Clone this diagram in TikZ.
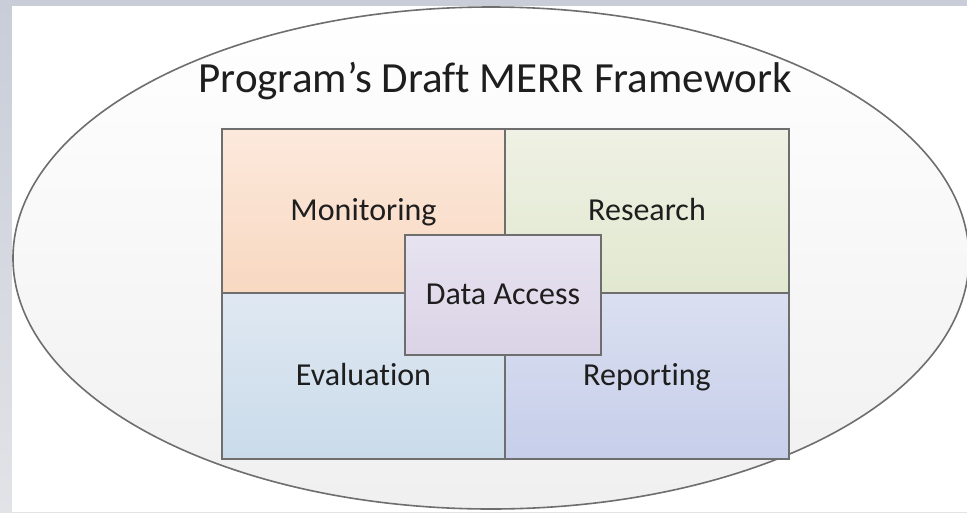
\documentclass[tikz,border=0pt]{standalone}
\usepackage{fontspec}
\setmainfont{Carlito}[Ligatures=NoCommon]
\usetikzlibrary{shapes.geometric}
\definecolor{edgegray}{HTML}{6E6E6E}
\definecolor{textgray}{HTML}{1E1E1E}
\definecolor{bgtop}{RGB}{200,205,216}
\definecolor{bgbot}{RGB}{226,227,231}
\definecolor{montop}{HTML}{FCE9DC}
\definecolor{monbot}{HTML}{F8D8C1}
\definecolor{restop}{HTML}{EFF1E4}
\definecolor{resbot}{HTML}{E1E8CF}
\definecolor{evatop}{HTML}{DFE8F2}
\definecolor{evabot}{HTML}{CADBEA}
\definecolor{reptop}{HTML}{DAE0F0}
\definecolor{repbot}{HTML}{C6CEEA}
\definecolor{datatop}{HTML}{E7E3F0}
\definecolor{databot}{HTML}{DBD3E6}
\tikzstyle{frame}=[ellipse,draw=edgegray,line width=1.6pt,top color=white,bottom color=black!6,minimum width=956,minimum height=502,inner sep=0pt]
\tikzstyle{quad} = [rectangle,draw=edgegray,line width=1.8pt,inner sep=0pt,font=\fontsize{32}{38}\selectfont,text=textgray,text height=21pt,text depth=2.2pt]
\tikzstyle{hub} = [quad,top color=datatop,bottom color=databot,minimum width=196,minimum height=120]

\begin{document}
\begin{tikzpicture}[x=1pt,y=-1pt]
        \useasboundingbox (0,0) rectangle (967,512);
        \clip (0,0) rectangle (967,512);
        \shade[top color=bgtop,bottom color=bgbot] (0,0) rectangle (967,512);
        \fill[white] (12,6) rectangle (967,512);
        \node[frame] (merr) at (491,258) {};
        \node[font=\fontsize{43}{50}\selectfont,text=textgray] (title) at (495,81) {Program’s Draft MERR Framework};
        \node[quad,top color=montop,bottom color=monbot,minimum width=283,minimum height=164] (mon) at (363.5,211) {Monitoring};
        \node[quad,top color=restop,bottom color=resbot,minimum width=284,minimum height=164] (res) at (647,211) {Research};
        \node[quad,top color=evatop,bottom color=evabot,minimum width=283,minimum height=166] (eva) at (363.5,376) {Evaluation};
        \node[quad,top color=reptop,bottom color=repbot,minimum width=284,minimum height=166] (rep) at (647,376) {Reporting};
        \node[hub] (data) at (503,295) {Data Access};
    \end{tikzpicture}
\end{document}
